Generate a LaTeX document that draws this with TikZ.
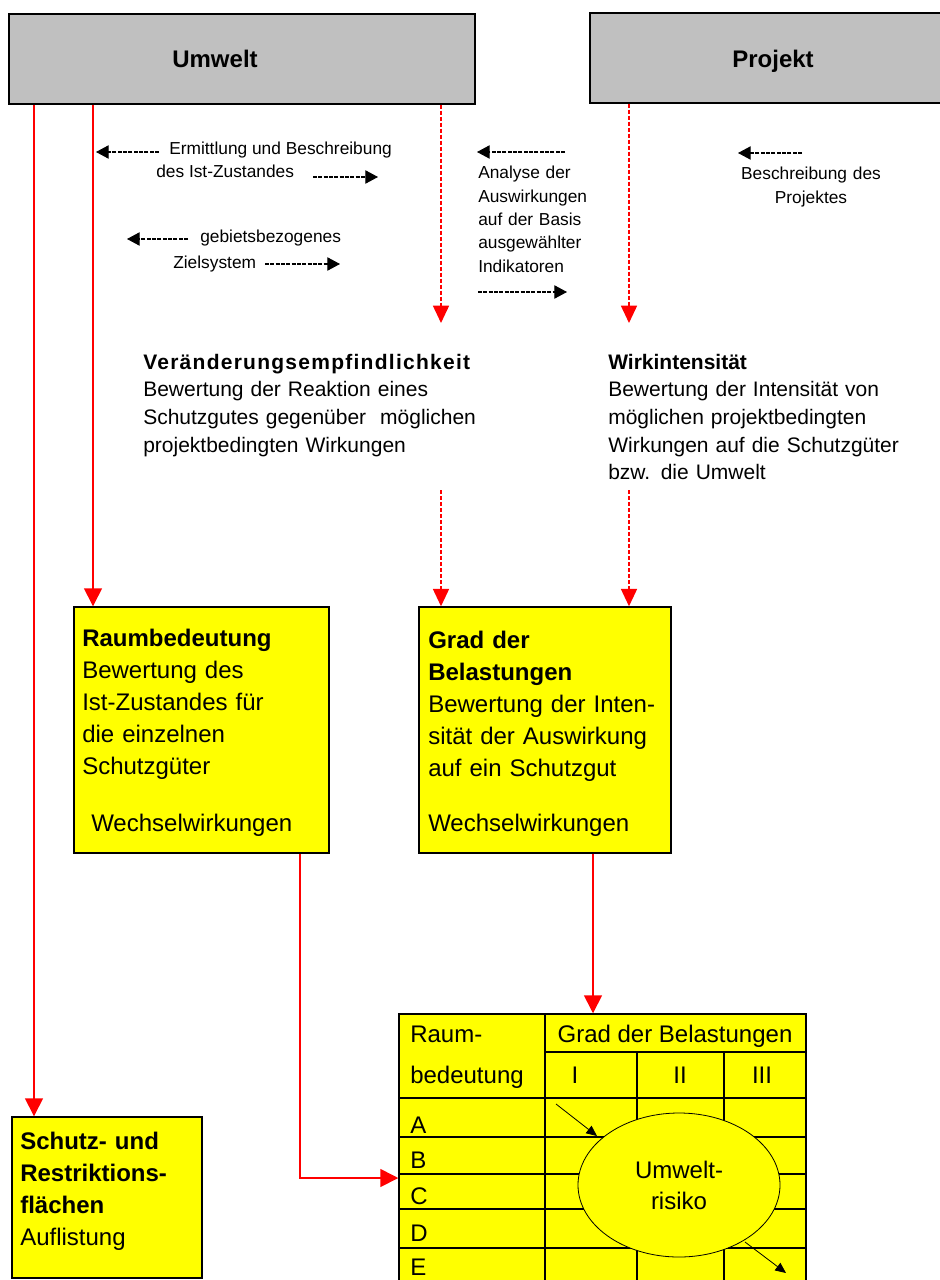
\documentclass[tikz,border=0pt]{standalone}
\usepackage{fontspec}
\setmainfont{Liberation Sans}
\usetikzlibrary{arrows.meta,fit,shapes.geometric}
\definecolor{boxgray}{RGB}{192,192,192}
\definecolor{boxyellow}{RGB}{255,255,0}
\definecolor{linered}{RGB}{255,0,0}
\newcommand{\fsBig}{\fontsize{18pt}{24pt}\selectfont}
\newcommand{\fsMid}{\fontsize{15.75pt}{20.8pt}\selectfont}
\newcommand{\fsSmall}{\fontsize{13pt}{17.5pt}\selectfont}
\begin{document}
\begin{tikzpicture}[x=0.75pt,y=-0.75pt,
  graybox/.style={draw=black, line width=1.1pt, fill=boxgray, inner sep=0pt},
  yellowbox/.style={draw=black, line width=1.1pt, fill=boxyellow, inner sep=0pt},
  txt/.style={inner sep=0pt, anchor=base west},
  redarrow/.style={draw=linered, line width=1.2pt, -{Triangle[length=13.5pt,width=13.5pt]}},
  reddash/.style={draw=linered, line width=1.2pt, dash pattern=on 3pt off 1.5pt, -{Triangle[length=13pt,width=12pt]}},
  blackdash/.style={draw=black, line width=0.8pt, dash pattern=on 3pt off 1pt, -{Triangle[length=9.5pt,width=10pt]}},
  thinarrow/.style={draw=black, line width=0.6pt, -{Triangle[length=8pt,width=7pt]}},
  tline/.style={draw=black, line width=0.9pt}]
\useasboundingbox (0,0) rectangle (939,1280);

% top boxes
\node[graybox, fit={(9,14) (475,104)}] (umwelt) {};
\node[graybox, fit={(590,13) (956,103)}] (projekt) {};
\node[txt, anchor=base, font=\fsBig\bfseries] (umwelttxt) at (215,68) {Umwelt};
\node[txt, anchor=base, font=\fsBig\bfseries] (projekttxt) at (773,68) {Projekt};

% yellow boxes
\node[yellowbox, fit={(74,607) (329,853)}] (raum) {};
\node[yellowbox, fit={(419,607) (671,853)}] (grad) {};
\node[yellowbox, fit={(12,1117) (202,1278)}] (schutz) {};

\node[txt, text width=180pt, align=left, font=\fsBig] (raumtxt) at (82,646)
  {\textbf{Raumbedeutung}\\Bewertung des\\Ist-Zustandes für\\die einzelnen\\Schutzgüter};
\node[txt, font=\fsBig] (raumww) at (91,831) {Wechselwirkungen};
\node[txt, text width=180pt, align=left, font=\fsBig] (gradtxt) at (428,648)
  {\textbf{Grad der}\\\textbf{Belastungen}\\Bewertung der Inten-\\sität der Auswirkung\\auf ein Schutzgut};
\node[txt, font=\fsBig] (gradww) at (428,831) {Wechselwirkungen};
\node[txt, text width=140pt, align=left, font=\fsBig] (schutztxt) at (20,1149)
  {\textbf{Schutz- und}\\\textbf{Restriktions-}\\\textbf{flächen}\\Auflistung};

% middle texts
\node[txt, text width=260pt, align=left, font=\fsMid] (veraend) at (143,369)
  {{\bfseries\addfontfeature{LetterSpace=6}Veränderungsempfindlichkeit}\\Bewertung der Reaktion eines\\Schutzgutes gegenüber\ \ möglichen\\projektbedingten Wirkungen};
\node[txt, text width=240pt, align=left, font=\fsMid] (wirk) at (608,369)
  {\textbf{Wirkintensität}\\Bewertung der Intensität von\\möglichen projektbedingten\\Wirkungen auf die Schutzgüter\\bzw. die Umwelt};

% small texts
\node[txt, font=\fsSmall] (erm) at (169,155) {Ermittlung und Beschreibung};
\node[txt, font=\fsSmall] (ist) at (156,178) {des Ist-Zustandes};
\node[txt, font=\fsSmall] (geb) at (200,243) {gebietsbezogenes};
\node[txt, font=\fsSmall] (ziel) at (173,268) {Zielsystem};
\node[txt, text width=82.5pt, align=left, font=\fsSmall] (analyse) at (478,179)
  {\makebox[82.5pt][s]{Analyse der}\\Auswirkungen\\\makebox[82.5pt][s]{auf der Basis}\\ausgewählter\\Indikatoren};
\node[inner sep=0pt, anchor=base, text width=110pt, align=center, font=\fsSmall] (beschr) at (811,180)
  {Beschreibung des\\Projektes};

% small black dashed arrows
\coordinate (e1) at (159,152); \coordinate (e2) at (96,152);
\coordinate (e3) at (313,177); \coordinate (e4) at (378,177);
\coordinate (g1) at (188,239); \coordinate (g2) at (127,239);
\coordinate (g3) at (265,264); \coordinate (g4) at (340,264);
\coordinate (a1) at (565,152); \coordinate (a2) at (477,152);
\coordinate (a3) at (478,292); \coordinate (a4) at (567,292);
\coordinate (b1) at (802,153); \coordinate (b2) at (738,153);
\draw[blackdash] (e1) -- (e2);
\draw[blackdash] (e3) -- (e4);
\draw[blackdash] (g1) -- (g2);
\draw[blackdash] (g3) -- (g4);
\draw[blackdash] (a1) -- (a2);
\draw[blackdash] (a3) -- (a4);
\draw[blackdash] (b1) -- (b2);

% table
\node[yellowbox, fit={(399,1014) (806,1295)}] (tbl) {};
\draw[tline, line width=1.3pt] (tbl.north -| 545,0) -- (tbl.south -| 545,0);
\draw[tline] (545,1052) -- (tbl.east |- 0,1052);
\draw[tline] (tbl.west |- 0,1098) -- (tbl.east |- 0,1098);
\foreach \yy in {1137,1174,1209,1248}
  \draw[tline] (tbl.west |- 0,\yy) -- (tbl.east |- 0,\yy);
\foreach \xx in {637,724}
  \draw[tline] (\xx,1052) -- (tbl.south -| \xx,0);
\node[txt, font=\fsBig] (traum) at (410,1042) {Raum-};
\node[txt, font=\fsBig] (tbed) at (410,1083) {bedeutung};
\node[txt, anchor=base, font=\fsBig] (tgrad) at (675,1042) {Grad der Belastungen};
\node[txt, anchor=base, font=\fsBig] (tI) at (575,1083) {I};
\node[txt, anchor=base, font=\fsBig] (tII) at (680,1083) {II};
\node[txt, anchor=base, font=\fsBig] (tIII) at (762,1083) {III};
\node[txt, font=\fsBig] (tA) at (410,1133) {A};
\node[txt, font=\fsBig] (tB) at (410,1168) {B};
\node[txt, font=\fsBig] (tC) at (410,1204) {C};
\node[txt, font=\fsBig] (tD) at (410,1241) {D};
\node[txt, font=\fsBig] (tE) at (410,1275) {E};
\node[ellipse, draw=black, line width=0.6pt, fill=boxyellow, minimum width=151.5pt, minimum height=108pt,
  inner sep=0pt, align=center, font=\fontsize{18pt}{23.25pt}\selectfont] (risk) at (679,1185) {Umwelt-\\risiko};
\coordinate (ra1) at (556,1104); \coordinate (ra2) at (597,1136);
\coordinate (rb1) at (745,1242); \coordinate (rb2) at (786,1273);
\draw[thinarrow] (ra1) -- (ra2);
\draw[thinarrow] (rb1) -- (rb2);

% red connectors
\coordinate (s1) at (34,0);
\coordinate (s2) at (93,0);
\draw[redarrow] (umwelt.south -| s1) -- (schutz.north -| s1);
\draw[redarrow] (umwelt.south -| s2) -- (raum.north -| s2);
\coordinate (v1) at (441,323); \coordinate (v2) at (441,490);
\coordinate (w1) at (629,323); \coordinate (w2) at (629,490);
\draw[reddash] (umwelt.south -| v1) -- (v1);
\draw[reddash] (v2) -- (grad.north -| v2);
\draw[reddash] (projekt.south -| w1) -- (w1);
\draw[reddash] (w2) -- (grad.north -| w2);
\draw[redarrow] (raum.south -| 300,0) |- (tbl.west |- 0,1178);
\draw[redarrow] (grad.south -| 593,0) -- (tbl.north -| 593,0);
\end{tikzpicture}
\end{document}
